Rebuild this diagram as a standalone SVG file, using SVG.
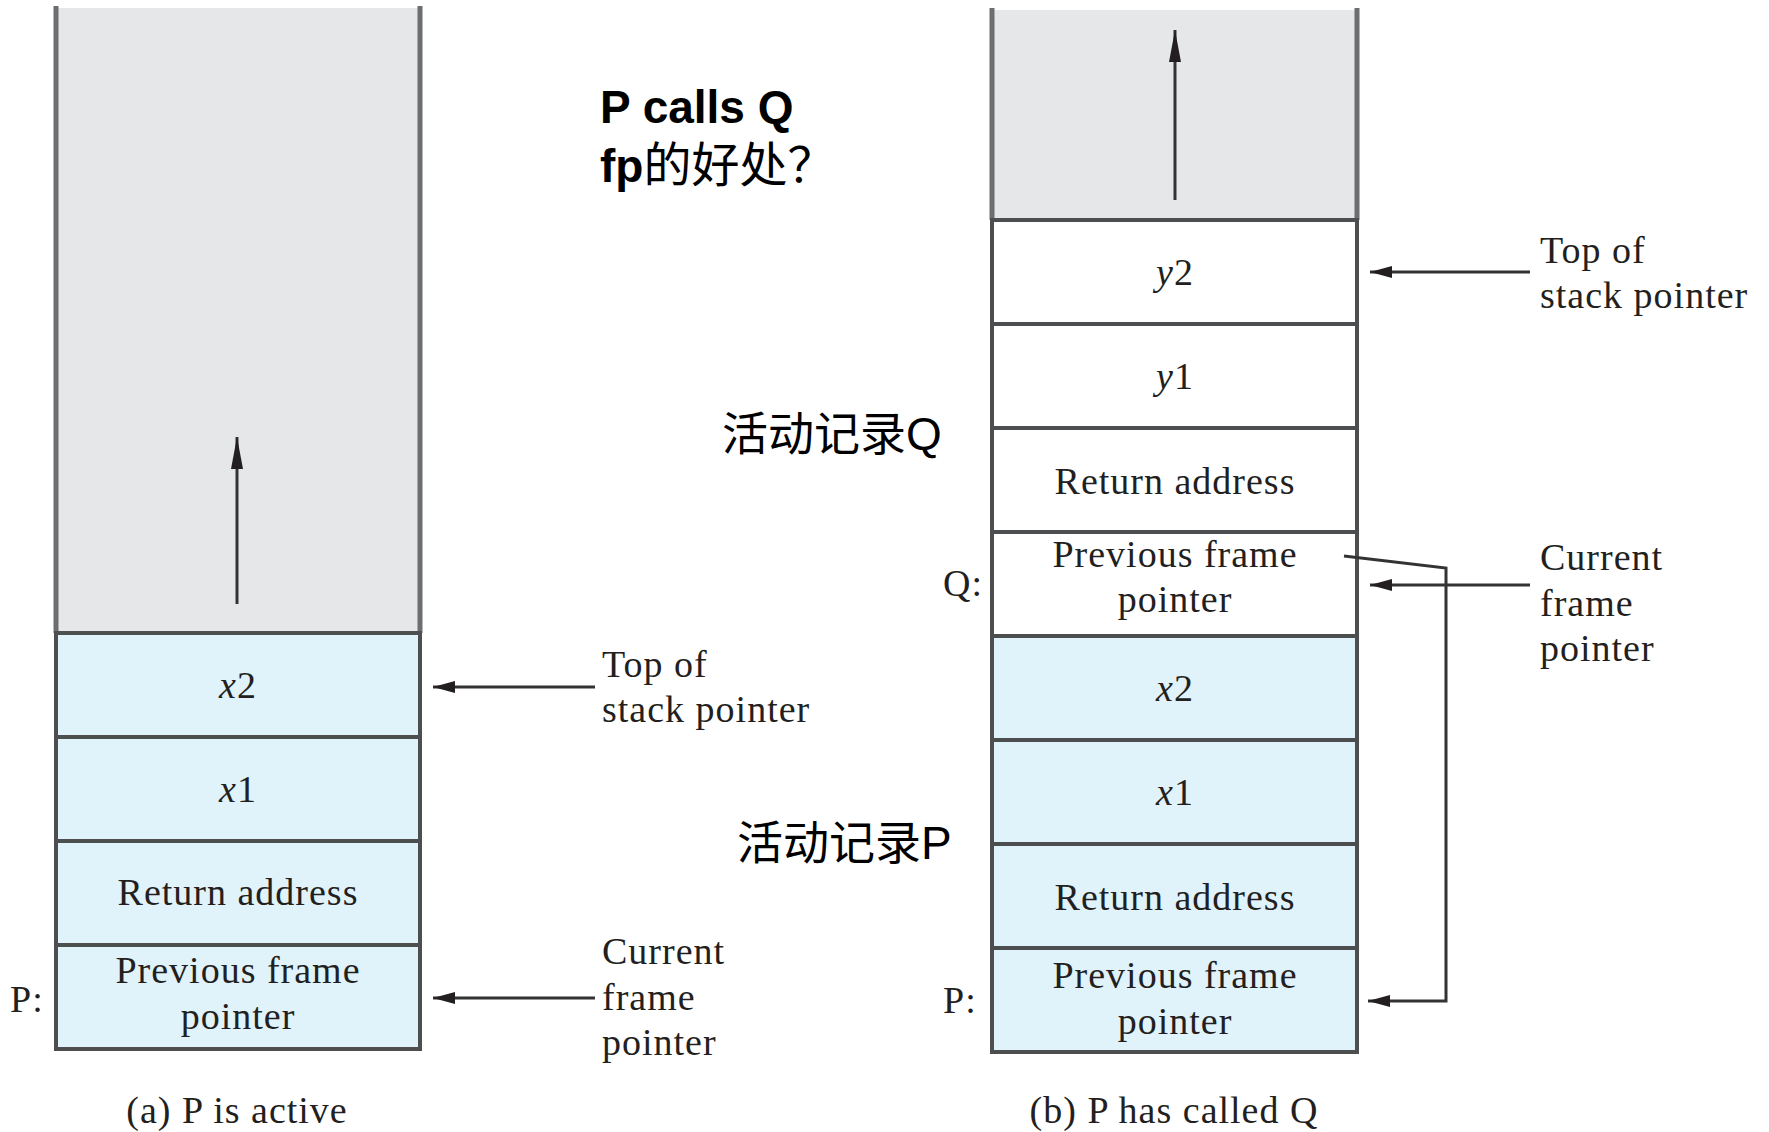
<svg xmlns="http://www.w3.org/2000/svg" width="1769" height="1132" viewBox="0 0 1769 1132">
<style>
.t{font-family:"Liberation Serif","Times New Roman",serif;font-size:38px;letter-spacing:1px;fill:#231f20}
.c{text-anchor:middle}
.cell{stroke:#4d4e50;stroke-width:4}
.blue{fill:#e0f2fa}
.white{fill:#ffffff}
.gray{fill:#e6e7e9}
.side{stroke:#6d6e70;stroke-width:5}
.ptr{stroke:#333;stroke-width:3;fill:none}
.cn{font-family:"Liberation Sans","Noto Sans CJK SC",sans-serif;font-size:46px;fill:#000}
</style>
<defs>
<marker id="ah" markerUnits="userSpaceOnUse" markerWidth="26" markerHeight="16" refX="22" refY="8" orient="auto">
<path d="M0,2 L22,8 L0,14 Z" fill="#231f20"/>
</marker>
<marker id="up" markerUnits="userSpaceOnUse" markerWidth="34" markerHeight="16" refX="32" refY="8" orient="auto">
<path d="M0,2 L32,8 L0,14 Z" fill="#231f20"/>
</marker>
</defs>

<g id="stack-a">
<rect class="gray" x="56" y="8" width="364" height="625"/>
<line class="side" x1="56" y1="6" x2="56" y2="633"/>
<line class="side" x1="420" y1="6" x2="420" y2="633"/>
<g id="a-x2"><rect class="cell blue" x="56" y="633" width="364" height="104"/><text class="t c" x="238" y="698"><tspan font-style="italic">x</tspan>2</text></g>
<g id="a-x1"><rect class="cell blue" x="56" y="737" width="364" height="104"/><text class="t c" x="238" y="802"><tspan font-style="italic">x</tspan>1</text></g>
<g id="a-ret"><rect class="cell blue" x="56" y="841" width="364" height="104"/><text class="t c" x="238" y="905">Return address</text></g>
<g id="a-pfp"><rect class="cell blue" x="56" y="945" width="364" height="104"/><text class="t c" x="238" y="983">Previous frame</text><text class="t c" x="238" y="1029">pointer</text></g>
</g>

<g id="stack-b">
<rect class="gray" x="992" y="10" width="365" height="210"/>
<line class="side" x1="992" y1="8" x2="992" y2="220"/>
<line class="side" x1="1357" y1="8" x2="1357" y2="220"/>
<g id="b-y2"><rect class="cell white" x="992" y="220" width="365" height="104"/><text class="t c" x="1175" y="285"><tspan font-style="italic">y</tspan>2</text></g>
<g id="b-y1"><rect class="cell white" x="992" y="324" width="365" height="104"/><text class="t c" x="1175" y="389"><tspan font-style="italic">y</tspan>1</text></g>
<g id="b-ret-q"><rect class="cell white" x="992" y="428" width="365" height="104"/><text class="t c" x="1175" y="494">Return address</text></g>
<g id="b-pfp-q"><rect class="cell white" x="992" y="532" width="365" height="104"/><text class="t c" x="1175" y="567">Previous frame</text><text class="t c" x="1175" y="612">pointer</text></g>
<g id="b-x2"><rect class="cell blue" x="992" y="636" width="365" height="104"/><text class="t c" x="1175" y="701"><tspan font-style="italic">x</tspan>2</text></g>
<g id="b-x1"><rect class="cell blue" x="992" y="740" width="365" height="104"/><text class="t c" x="1175" y="805"><tspan font-style="italic">x</tspan>1</text></g>
<g id="b-ret-p"><rect class="cell blue" x="992" y="844" width="365" height="104"/><text class="t c" x="1175" y="910">Return address</text></g>
<g id="b-pfp-p"><rect class="cell blue" x="992" y="948" width="365" height="104"/><text class="t c" x="1175" y="988">Previous frame</text><text class="t c" x="1175" y="1034">pointer</text></g>
</g>

<g id="labels">
<text class="t" x="10" y="1012">P:</text>
<text class="t" x="943" y="596">Q:</text>
<text class="t" x="943" y="1013">P:</text>
<text class="t" x="602" y="677">Top of</text>
<text class="t" x="602" y="722">stack pointer</text>
<text class="t" x="602" y="964">Current</text>
<text class="t" x="602" y="1010">frame</text>
<text class="t" x="602" y="1055">pointer</text>
<text class="t" x="1540" y="263">Top of</text>
<text class="t" x="1540" y="308">stack pointer</text>
<text class="t" x="1540" y="570">Current</text>
<text class="t" x="1540" y="616">frame</text>
<text class="t" x="1540" y="661">pointer</text>
<text class="t c" x="237" y="1123">(a) P is active</text>
<text class="t c" x="1174" y="1123">(b) P has called Q</text>
<text class="cn" x="600" y="123" font-weight="bold">P calls Q</text>
<text class="cn" x="600" y="182"><tspan font-weight="bold">fp</tspan><tspan font-size="48">的好处？</tspan></text>
<text class="cn" x="722" y="450" font-size="47">活动记录Q</text>
<text class="cn" x="737" y="859" font-size="47">活动记录P</text>
</g>

<g id="connectors">
<line class="ptr" x1="237" y1="604" x2="237" y2="437" stroke-width="4" stroke="#58595b" marker-end="url(#up)"/>
<line class="ptr" x1="1175" y1="200" x2="1175" y2="30" stroke-width="4" stroke="#58595b" marker-end="url(#up)"/>
<line class="ptr" x1="595" y1="687" x2="433" y2="687" marker-end="url(#ah)"/>
<line class="ptr" x1="595" y1="998" x2="433" y2="998" marker-end="url(#ah)"/>
<line class="ptr" x1="1530" y1="272" x2="1370" y2="272" marker-end="url(#ah)"/>
<line class="ptr" x1="1530" y1="585" x2="1370" y2="585" marker-end="url(#ah)"/>
<polyline class="ptr" points="1344,556 1446,568 1446,1001 1368,1001" stroke="#6d6e70" stroke-width="4" marker-end="url(#ah)"/>
</g>
</svg>
